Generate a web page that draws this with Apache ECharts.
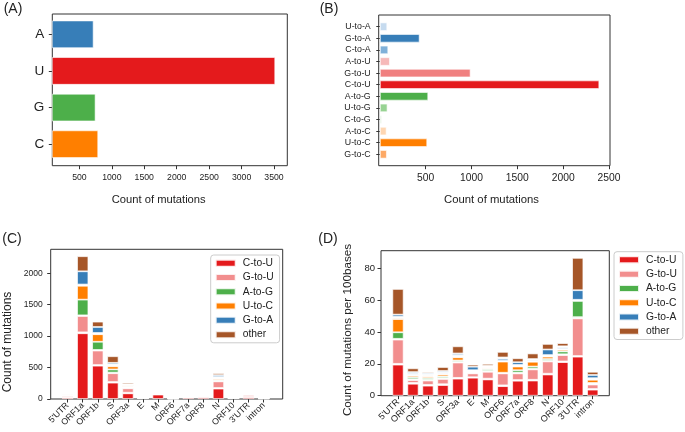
<!DOCTYPE html>
<html>
<head>
<meta charset="utf-8">
<script src="https://cdn.jsdelivr.net/npm/echarts@6/dist/echarts.min.js"></script>
<style>
html,body{margin:0;padding:0;background:#fff;}
#chart{width:685px;height:432px;}
</style>
</head>
<body>
<div id="chart"></div>
<script>
// ---------- DATA ----------
const baseCategories = ['A', 'U', 'G', 'C'];
const baseCounts = [720, 3520, 750, 791];
const baseTicks = [500, 1000, 1500, 2000, 2500, 3000, 3500];

const mutCategories = ['U-to-A','G-to-A','C-to-A','A-to-U','G-to-U','C-to-U','A-to-G','U-to-G','C-to-G','A-to-C','U-to-C','G-to-C'];
const mutCounts = [82, 435, 93, 111, 991, 2395, 529, 85, 24, 75, 518, 78];
const mutTicks = [500, 1000, 1500, 2000, 2500];

const regions = ["5'UTR","ORF1a","ORF1b","S","ORF3a","E","M","ORF6","ORF7a","ORF8","N","ORF10","3'UTR","intron"];
const stackNames = ['C-to-U','A-to-U','G-to-U','U-to-G','A-to-G','U-to-C','A-to-C','C-to-A','G-to-A','other'];
const legendNames = ['C-to-U','G-to-U','A-to-G','U-to-C','G-to-A','other'];

// Panel C: count of mutations per region
const countCtoU  = [25,1045,530,260,90,17,70,4,25,30,165,15,30,6];
const countAtoU  = [10,15,10,10,10,0,5,0,1,1,10,0,5,1];
const countGtoU  = [20,260,230,140,70,1,15,4,7,15,105,3,30,4];
const countUtoG  = [5,10,10,10,10,0,2,0,0,0,10,0,3,1];
const countAtoG  = [5,250,130,50,5,0,3,0,2,1,15,1,10,1];
const countUtoC  = [5,220,120,50,15,0,1,4,2,3,20,0,2,3];
const countAtoC  = [15,10,10,15,20,0,1,0,0,0,10,0,10,1];
const countCtoA  = [5,10,10,15,10,0,1,1,0,1,15,0,3,1];
const countGtoA  = [3,210,95,25,5,2,1,0,1,0,30,0,6,1];
const countOther = [7,240,85,105,25,0,1,2,2,4,30,1,11,1];
const countTicks = [0, 500, 1000, 1500, 2000];

// Panel D: count of mutations per 100 bases
const rateCtoU  = [19.5,7.5,6.3,6.7,10.7,11.3,10.2,6.0,9.4,9.5,13.3,21.1,24.5,3.8];
const rateAtoU  = [0.5,0.5,0.5,0.5,0.5,0.3,0.5,0.5,0.4,0.5,0.5,0.4,0.4,0.4];
const rateGtoU  = [15.2,1.8,2.7,3.3,9.6,2.4,4.3,7.5,4.2,6.5,7.7,4.0,23.6,2.8];
const rateUtoG  = [0.5,0.6,0.6,0.6,0.5,0.5,0.6,0.2,0.5,0.5,0.5,0.5,0.8,0.5];
const rateAtoG  = [4.1,1.2,1.0,1.0,0.8,0.3,1.0,0.2,1.5,1.3,1.0,1.8,10.2,0.5];
const rateUtoC  = [8.3,1.0,1.0,1.2,2.0,0.3,0.6,7.0,2.3,3.0,1.5,1.0,0.3,2.0];
const rateAtoC  = [1.0,0.6,0.6,0.6,0.6,0.4,0.6,0.3,0.5,0.4,0.5,0.5,0.2,0.4];
const rateCtoA  = [0.5,0.7,0.7,0.8,0.8,0.5,0.5,1.8,0.5,0.8,0.5,1.2,0.2,0.6];
const rateGtoA  = [1.3,0.9,0.8,0.8,1.0,2.2,0.5,0.5,1.7,0.5,3.5,0.5,6.0,2.0];
const rateOther = [16.1,2.4,0.8,2.5,4.5,1.3,1.2,3.5,2.5,3.5,3.5,2.0,20.3,2.0];
const rateTicks = [0, 20, 40, 60, 80];

// ---------- STYLE ----------
const FONT = "'Liberation Sans', Arial, sans-serif";
const TXT = '#222';
const SPINE = '#333';
const baseColors = {A:'#377eb8', U:'#e41a1c', G:'#4daf4a', C:'#ff7f00'};
const mutColors = {
  'U-to-A':'#c6dbef','G-to-A':'#377eb8','C-to-A':'#80b1d9',
  'A-to-U':'#f6b9b9','G-to-U':'#f08080','C-to-U':'#e41a1c',
  'A-to-G':'#4daf4a','U-to-G':'#98d393','C-to-G':'#d5edd2',
  'A-to-C':'#fed6b2','U-to-C':'#ff7f00','G-to-C':'#fda965'
};
const stackColors = {
  'C-to-U':'#e41a1c','A-to-U':'#f7bcbc','G-to-U':'#f28e8e','U-to-G':'#a6d9a0',
  'A-to-G':'#4daf4a','U-to-C':'#ff7f00','A-to-C':'#f3d8bd','C-to-A':'#a9c8e4',
  'G-to-A':'#377eb8','other':'#a65628'
};
const countData = [countCtoU,countAtoU,countGtoU,countUtoG,countAtoG,countUtoC,countAtoC,countCtoA,countGtoA,countOther];
const rateData  = [rateCtoU,rateAtoU,rateGtoU,rateUtoG,rateAtoG,rateUtoC,rateAtoC,rateCtoA,rateGtoA,rateOther];

const chart = echarts.init(document.getElementById('chart'), null, {renderer:'canvas'});

function boxGrid(l,t,w,h){ return {left:l, top:t, width:w, height:h, show:true, borderColor:SPINE, borderWidth:1, backgroundColor:'transparent'}; }
function hiddenAxis(i){ return {gridIndex:i, type:'value', show:false}; }
const plain = v => String(v);

const tickStyle = {show:true, length:3.5, lineStyle:{color:SPINE, width:1}};

const grids = [
  boxGrid(52.3, 14, 235, 151.7),
  {left:52.3, top:16, width:235, height:146.5},
  boxGrid(378.7, 15, 231.3, 150.7),
  {left:378.7, top:20.9, width:231.3, height:139.2},
  boxGrid(50.7, 249.3, 232, 149.7),
  {left:60.1, top:249.3, width:211.1, height:149.7},
  boxGrid(381, 250.7, 228.3, 145),
  {left:390.5, top:250.7, width:209.7, height:145}
];

const xAxes = [
  hiddenAxis(0),
  {gridIndex:1, type:'value', min:82, max:3705, offset:3.2,
   axisLine:{show:false}, splitLine:{show:false},
   axisTick:Object.assign({customValues:baseTicks}, tickStyle),
   axisLabel:{customValues:baseTicks, formatter:plain, fontSize:8.7, color:TXT, fontFamily:FONT, margin:7}},
  hiddenAxis(2),
  {gridIndex:3, type:'value', min:-12, max:2511, offset:5.6,
   axisLine:{show:false}, splitLine:{show:false},
   axisTick:Object.assign({customValues:mutTicks}, tickStyle),
   axisLabel:{customValues:mutTicks, formatter:plain, fontSize:10.3, color:TXT, fontFamily:FONT, margin:7}},
  hiddenAxis(4),
  {gridIndex:5, type:'category', data:regions,
   axisLine:{show:false},
   axisTick:Object.assign({alignWithLabel:true, interval:0}, tickStyle),
   axisLabel:{rotate:45, fontSize:8.8, color:TXT, fontFamily:FONT, margin:5, interval:0}},
  hiddenAxis(6),
  {gridIndex:7, type:'category', data:regions,
   axisLine:{show:false},
   axisTick:Object.assign({alignWithLabel:true, interval:0}, tickStyle),
   axisLabel:{rotate:45, fontSize:9, color:TXT, fontFamily:FONT, margin:5, interval:0}}
];

const yAxes = [
  hiddenAxis(0),
  {gridIndex:1, type:'category', data:baseCategories, inverse:true,
   axisLine:{show:false},
   axisTick:Object.assign({alignWithLabel:true, interval:0}, tickStyle),
   axisLabel:{fontSize:13.5, color:TXT, fontFamily:FONT, margin:8, interval:0}},
  hiddenAxis(2),
  {gridIndex:3, type:'category', data:mutCategories, inverse:true,
   axisLine:{show:false},
   axisTick:Object.assign({alignWithLabel:true, interval:0}, tickStyle),
   axisLabel:{fontSize:8.8, color:TXT, fontFamily:FONT, margin:8, interval:0}},
  hiddenAxis(4),
  {gridIndex:5, type:'value', min:0, max:2380, offset:9.4,
   axisLine:{show:false}, splitLine:{show:false},
   axisTick:Object.assign({customValues:countTicks}, tickStyle),
   axisLabel:{customValues:countTicks, formatter:plain, fontSize:8.5, color:TXT, fontFamily:FONT, margin:8}},
  hiddenAxis(6),
  {gridIndex:7, type:'value', min:0, max:91, offset:9.5,
   axisLine:{show:false}, splitLine:{show:false},
   axisTick:Object.assign({customValues:rateTicks}, tickStyle),
   axisLabel:{customValues:rateTicks, formatter:plain, fontSize:9.5, color:TXT, fontFamily:FONT, margin:6}}
];

const series = [
  {type:'bar', name:'bases', xAxisIndex:1, yAxisIndex:1, barCategoryGap:'24%',
   data: baseCounts.map((v,i)=>({value:v, itemStyle:{color:baseColors[baseCategories[i]]}})),
   itemStyle:{borderColor:'rgba(255,255,255,0.6)', borderWidth:1}, silent:true},
  {type:'bar', name:'types', xAxisIndex:3, yAxisIndex:3, barCategoryGap:'25%',
   data: mutCounts.map((v,i)=>({value:v, itemStyle:{color:mutColors[mutCategories[i]]}})),
   itemStyle:{borderColor:'rgba(255,255,255,0.6)', borderWidth:1}, silent:true}
];
stackNames.forEach((n,k)=>{
  series.push({type:'bar', name:n, stack:'c', xAxisIndex:5, yAxisIndex:5, barCategoryGap:'25%',
    data:countData[k], itemStyle:{color:stackColors[n], borderColor:'rgba(255,255,255,0.85)', borderWidth:0.8}, silent:true});
});
stackNames.forEach((n,k)=>{
  series.push({type:'bar', name:n, stack:'d', xAxisIndex:7, yAxisIndex:7, barCategoryGap:'25%',
    data:rateData[k], itemStyle:{color:stackColors[n], borderColor:'rgba(255,255,255,0.85)', borderWidth:0.8}, silent:true});
});

function legend(l,t){
  return {data:legendNames, orient:'vertical', left:l, top:t, icon:'rect',
    itemWidth:20, itemHeight:7, itemGap:0, padding:[1,6,1,4],
    borderColor:'#cccccc', borderWidth:1, borderRadius:3, selectedMode:false,
    textStyle:{fontSize:10.3, color:TXT, fontFamily:FONT, lineHeight:14.3, padding:[0,0,0,2]}};
}

function txt(x,y,s,size,rot){
  return {type:'text', x:x, y:y, rotation:rot||0, silent:true,
    style:{text:s, x:0, y:0, align:'center', verticalAlign:'middle', fontSize:size, fontFamily:FONT, fill:TXT}};
}

chart.setOption({
  animation:false,
  backgroundColor:'#fff',
  grid:grids, xAxis:xAxes, yAxis:yAxes, series:series,
  legend:[legend(210.7,255), legend(614,251.7)],
  graphic:[
    txt(13,9,'(A)',14), txt(329,9,'(B)',14), txt(12,239,'(C)',14), txt(328,239,'(D)',14),
    txt(158.7,199.5,'Count of mutations',11.2),
    txt(491.5,199.5,'Count of mutations',11.3),
    txt(7.5,342,'Count of mutations',12,Math.PI/2),
    txt(347.7,330,'Count of mutations per 100bases',11.7,Math.PI/2)
  ]
});
</script>
</body>
</html>
